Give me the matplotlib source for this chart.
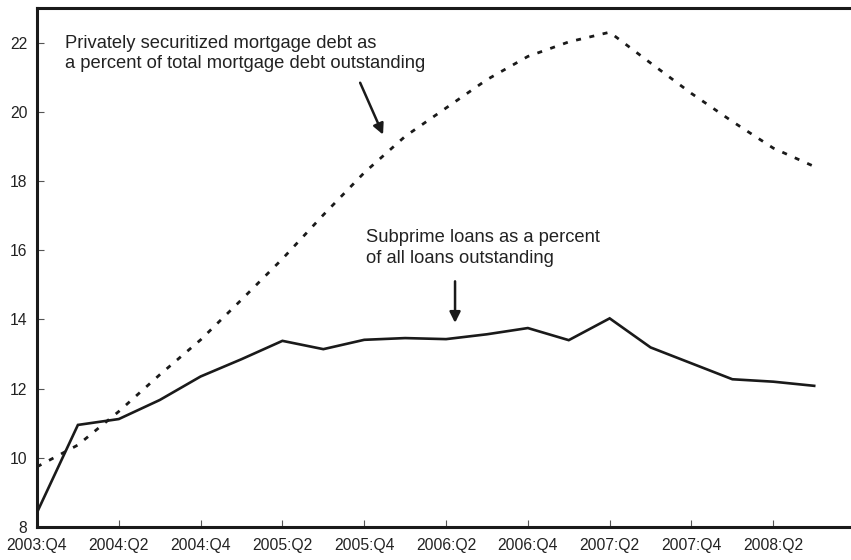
import numpy as np
import matplotlib.pyplot as plt

plt.rcParams['font.family'] = ['Liberation Sans', 'DejaVu Sans']

# quarterly observations, 2003:Q4 .. 2008:Q3
quarters = ['2003:Q4', '2004:Q1', '2004:Q2', '2004:Q3', '2004:Q4',
            '2005:Q1', '2005:Q2', '2005:Q3', '2005:Q4', '2006:Q1',
            '2006:Q2', '2006:Q3', '2006:Q4', '2007:Q1', '2007:Q2',
            '2007:Q3', '2007:Q4', '2008:Q1', '2008:Q2', '2008:Q3']
subprime = [8.42, 10.95, 11.12, 11.67, 12.35, 12.85, 13.38, 13.14, 13.41, 13.46,
            13.43, 13.57, 13.75, 13.40, 14.03, 13.19, 12.73, 12.27, 12.20, 12.08]
private_sec = [9.74, 10.37, 11.34, 12.40, 13.41, 14.57, 15.75, 17.02, 18.24, 19.29,
               20.11, 20.93, 21.60, 22.02, 22.30, 21.41, 20.53, 19.72, 18.95, 18.42]

x = np.arange(len(quarters))

fig = plt.figure(figsize=(8.51, 5.60), dpi=100)
ax = fig.add_axes([37/851, 1 - 527/560, 1 - 37/851, (527 - 8)/560])

ax.plot(x, subprime, color='#1a1a1a', lw=1.9, solid_joinstyle='miter')
ax.plot(x, private_sec, color='#1a1a1a', lw=2.0, linestyle=(0, (1.8, 3.1)))

ax.set_xlim(0, 19.9)
ax.set_ylim(8, 23)
ax.set_yticks([8, 10, 12, 14, 16, 18, 20, 22])
ax.set_xticks(x[::2])
ax.set_xticklabels(quarters[::2])
ax.tick_params(direction='in', length=5, width=0.8, color='#555555',
               labelsize=11.3, labelcolor='#222222')
ax.tick_params(axis='y', pad=7)
ax.tick_params(axis='x', pad=8)

for side in ['left', 'top', 'bottom']:
    ax.spines[side].set_linewidth(2.2)
    ax.spines[side].set_color('#1a1a1a')
ax.spines['right'].set_visible(False)

ax.text(0.68, 22.23, 'Privately securitized mortgage debt as\na percent of total mortgage debt outstanding',
        fontsize=13.2, color='#222222', va='top', ha='left', linespacing=1.25)
ax.annotate('', xy=(8.46, 19.34), xytext=(7.9, 20.84),
            arrowprops=dict(arrowstyle='-|>', color='#1a1a1a', lw=1.8,
                            mutation_scale=16, shrinkA=0, shrinkB=0))

ax.text(8.05, 16.6, 'Subprime loans as a percent\nof all loans outstanding',
        fontsize=13.2, color='#222222', va='top', ha='left', linespacing=1.25)
ax.annotate('', xy=(10.22, 13.9), xytext=(10.22, 15.1),
            arrowprops=dict(arrowstyle='-|>', color='#1a1a1a', lw=1.8,
                            mutation_scale=16, shrinkA=0, shrinkB=0))

fig.savefig('out.png', dpi=100)
